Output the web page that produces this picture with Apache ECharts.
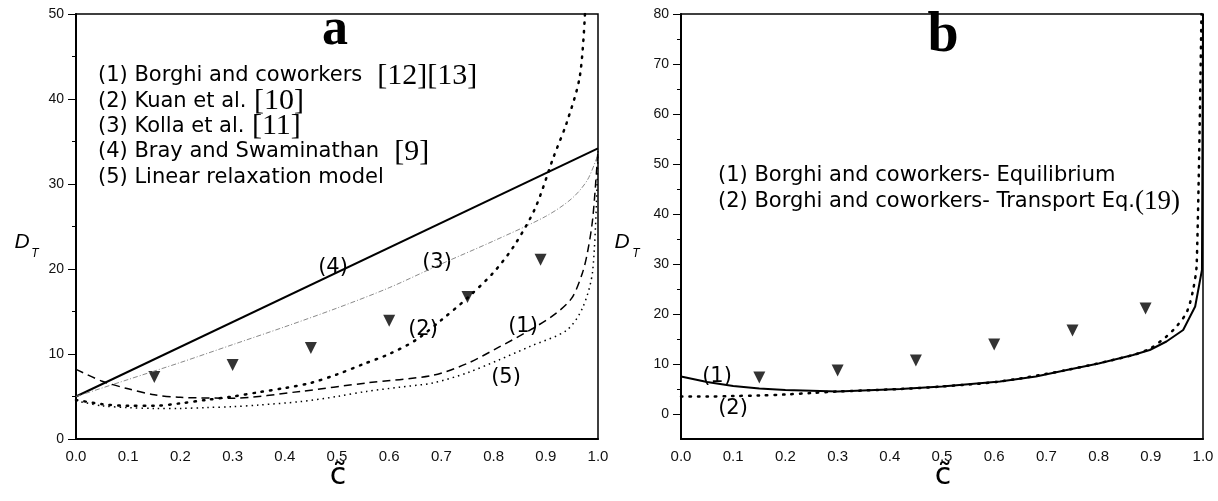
<!DOCTYPE html>
<html>
<head>
<meta charset="utf-8">
<script src="https://cdn.jsdelivr.net/npm/echarts@6/dist/echarts.min.js"></script>
<style>
  html, body { margin: 0; padding: 0; background: #fff; }
  #chart { width: 1218px; height: 501px; }
</style>
</head>
<body>
<div id="chart"></div>
<script>
var chart = echarts.init(document.getElementById('chart'));

// measured points (triangles), same in both panels
var expX = [0.15, 0.30, 0.45, 0.60, 0.75, 0.89];
var expY = [7.3, 8.7, 10.7, 13.9, 16.7, 21.1];

// panel a
var borghiX = [0, 0.05, 0.1, 0.15, 0.2, 0.3, 0.43, 0.557, 0.684, 0.75, 0.81, 0.875, 0.92, 0.95, 0.97, 0.98, 0.99, 1.0];
var borghiY = [8.2, 6.8, 5.9, 5.2, 4.9, 4.8, 5.6, 6.6, 7.5, 8.9, 10.8, 13.0, 14.8, 16.6, 19.5, 22.0, 26.0, 34.0];
var kuanX = [0, 0.05, 0.1, 0.15, 0.2, 0.25, 0.3, 0.35, 0.4, 0.45, 0.5, 0.55, 0.6, 0.65, 0.7, 0.75, 0.8, 0.84, 0.88, 0.915, 0.94, 0.965, 0.975];
var kuanY = [4.6, 4.1, 3.9, 3.9, 4.2, 4.6, 5.0, 5.5, 6.0, 6.6, 7.6, 8.8, 10.0, 11.6, 14.0, 16.6, 19.6, 22.8, 27.2, 33.2, 37.2, 42.6, 50];
var kollaX = [0, 0.1, 0.2, 0.3, 0.4, 0.5, 0.6, 0.7, 0.8, 0.9, 0.95, 0.98, 1.0];
var kollaY = [5, 7.0, 9.0, 11.1, 13.2, 15.4, 17.8, 20.6, 23.3, 26.2, 28.3, 30.5, 33.5];
var brayX = [0, 1.0];
var brayY = [5, 34.2];
var linX = [0, 0.05, 0.1, 0.15, 0.2, 0.25, 0.3, 0.35, 0.43, 0.5, 0.557, 0.62, 0.684, 0.75, 0.81, 0.87, 0.94, 0.971, 0.99, 1.0];
var linY = [4.5, 3.9, 3.7, 3.6, 3.6, 3.7, 3.8, 4.0, 4.4, 5.0, 5.6, 6.1, 6.6, 7.8, 9.3, 10.9, 12.8, 15.5, 19.9, 34.0];

// panel b
var eqX = [0, 0.05, 0.1, 0.15, 0.2, 0.3, 0.42, 0.5, 0.611, 0.68, 0.739, 0.8, 0.866, 0.898, 0.93, 0.962, 0.985, 0.998, 1.0];
var eqY = [7.5, 6.4, 5.6, 5.1, 4.8, 4.5, 5.0, 5.5, 6.5, 7.5, 8.8, 10.1, 11.8, 12.8, 14.5, 16.8, 21.5, 28.8, 80];
var trX = [0, 0.05, 0.1, 0.15, 0.2, 0.25, 0.3, 0.42, 0.5, 0.611, 0.739, 0.866, 0.9, 0.93, 0.95, 0.969, 0.981, 0.988, 0.997];
var trY = [3.5, 3.5, 3.6, 3.7, 3.9, 4.2, 4.5, 5.0, 5.5, 6.5, 8.8, 11.8, 13.2, 15.5, 17.6, 20.4, 24.8, 30.1, 80];

var xTicks = [0, 0.1, 0.2, 0.3, 0.4, 0.5, 0.6, 0.7, 0.8, 0.9, 1.0];
var yTicksB = [0, 10, 20, 30, 40, 50, 60, 70, 80];
var yMinorB = [5, 15, 25, 35, 45, 55, 65, 75];

var legendA = [
    ['(1) Borghi and coworkers', '  [12][13]'],
    ['(2) Kuan et al.', ' [10]'],
    ['(3) Kolla et al.', ' [11]'],
    ['(4) Bray and Swaminathan', '  [9]'],
    ['(5) Linear relaxation model', '']
];
var legendB = [
    ['(1) Borghi and coworkers- Equilibrium', ''],
    ['(2) Borghi and coworkers- Transport Eq.', '(19)']
];

function pairs(xs, ys) {
    return xs.map(function (x, i) { return [x, ys[i]]; });
}

var sans = 'Liberation Sans, Arial, sans-serif';
var wide = 'DejaVu Sans, sans-serif';
var serif = 'Liberation Serif, Times New Roman, serif';

function xAxisFor(grid) {
    return {
        type: 'value', gridIndex: grid, min: 0, max: 1,
        axisLine: { onZero: false, lineStyle: { color: '#000', width: 2 } },
        axisTick: { show: false },
        splitLine: { show: false },
        axisLabel: {
            customValues: xTicks, margin: 10,
            color: '#111', fontSize: 15, fontFamily: sans,
            formatter: function (v) { return v.toFixed(1); }
        }
    };
}

function line(name, xi, yi, xs, ys, style, smooth) {
    return {
        name: name, type: 'line', xAxisIndex: xi, yAxisIndex: yi,
        data: pairs(xs, ys), showSymbol: false,
        smooth: smooth === undefined ? 0.3 : smooth,
        lineStyle: style, clip: true, silent: true
    };
}

function tri(xi, yi) {
    return {
        type: 'scatter', xAxisIndex: xi, yAxisIndex: yi,
        data: pairs(expX, expY), symbol: 'triangle', symbolRotate: 180,
        symbolSize: 12, itemStyle: { color: '#000' }, silent: true
    };
}

var graphics = [];
function txt(x, y, s, font, align) {
    graphics.push({
        type: 'text', x: x, y: y, silent: true,
        style: { text: s, font: font, fill: '#000', textAlign: align || 'left', textVerticalAlign: 'middle' }
    });
}
function legendRow(x, y, row, serifSize) {
    graphics.push({
        type: 'text', x: x, y: y, silent: true,
        style: {
            text: '{s|' + row[0] + '}' + (row[1] ? '{t|' + row[1] + '}' : ''),
            textVerticalAlign: 'middle',
            rich: {
                s: { font: '21px ' + wide, fill: '#000' },
                t: { font: serifSize + 'px ' + serif, fill: '#000' }
            }
        }
    });
}

legendA.forEach(function (row, i) { legendRow(98, 76 + i * 25.3, row, 30); });
legendB.forEach(function (row, i) { legendRow(718, 176 + i * 26, row, 27); });

// panel letters
txt(335, 31, 'a', 'bold 52px ' + serif, 'center');
txt(943, 37, 'b', 'bold 56px ' + serif, 'center');

// curve labels
var lab = '21px ' + wide;
txt(333, 268, '(4)', lab, 'center');
txt(437, 263, '(3)', lab, 'center');
txt(423, 330, '(2)', lab, 'center');
txt(523, 327, '(1)', lab, 'center');
txt(506, 378, '(5)', lab, 'center');
txt(717, 377, '(1)', lab, 'center');
txt(733, 409, '(2)', lab, 'center');

// axis names
txt(22, 242, 'D', 'italic 21px ' + sans, 'center');
txt(35, 254, 'T', 'italic 12px ' + sans, 'center');
txt(622, 242, 'D', 'italic 21px ' + sans, 'center');
txt(636, 254, 'T', 'italic 12px ' + sans, 'center');
txt(338, 476, 'c\u0303', '30px ' + wide, 'center');
txt(943, 476, 'c\u0303', '30px ' + wide, 'center');

var yTickStyle = { color: '#000', width: 1 };
var option = {
    backgroundColor: '#fff',
    animation: false,
    grid: [
        { left: 76, top: 14, width: 522, height: 425, show: true, borderColor: '#000', borderWidth: 1.5 },
        { left: 681, top: 14, width: 522, height: 425, show: true, borderColor: '#000', borderWidth: 1.5 }
    ],
    xAxis: [xAxisFor(0), xAxisFor(1)],
    yAxis: [
        {
            type: 'value', gridIndex: 0, min: 0, max: 50, interval: 10, position: 'left',
            axisLine: { show: true, lineStyle: { color: '#000', width: 2 } },
            axisTick: { show: true, length: 8, lineStyle: yTickStyle },
            minorTick: { show: true, splitNumber: 2, length: 4, lineStyle: yTickStyle },
            splitLine: { show: false },
            axisLabel: { margin: 12, color: '#111', fontSize: 14, fontFamily: sans }
        },
        {
            type: 'value', gridIndex: 1, min: -5, max: 80, position: 'left',
            axisLine: { show: true, lineStyle: { color: '#000', width: 2 } },
            axisTick: { show: true, length: 8, customValues: yTicksB, lineStyle: yTickStyle },
            splitLine: { show: false },
            axisLabel: { customValues: yTicksB, margin: 12, color: '#111', fontSize: 14, fontFamily: sans }
        },
        {
            type: 'value', gridIndex: 1, min: -5, max: 80, position: 'left', offset: 0,
            axisLine: { show: false },
            axisTick: { show: true, length: 4, customValues: yMinorB, lineStyle: yTickStyle },
            splitLine: { show: false },
            axisLabel: { show: false }
        }
    ],
    series: [
        line('Bray', 0, 0, brayX, brayY, { color: '#000', width: 2, type: 'solid' }, false),
        line('Kolla', 0, 0, kollaX, kollaY, { color: '#8a8a8a', width: 1, type: [5, 2, 1, 2] }),
        line('Kuan', 0, 0, kuanX, kuanY, { color: '#000', width: 2.5, type: [1.5, 7], cap: 'round' }),
        line('Borghi', 0, 0, borghiX, borghiY, { color: '#000', width: 1.5, type: [8, 5] }),
        line('Linear', 0, 0, linX, linY, { color: '#000', width: 1.5, type: [1.5, 4] }),
        tri(0, 0),
        line('Equilibrium', 1, 1, eqX, eqY, { color: '#000', width: 2, type: 'solid' }, false),
        line('Transport', 1, 1, trX, trY, { color: '#000', width: 2.5, type: [1.5, 7], cap: 'round' }),
        tri(1, 1)
    ],
    graphic: graphics
};

chart.setOption(option);
</script>
</body>
</html>
